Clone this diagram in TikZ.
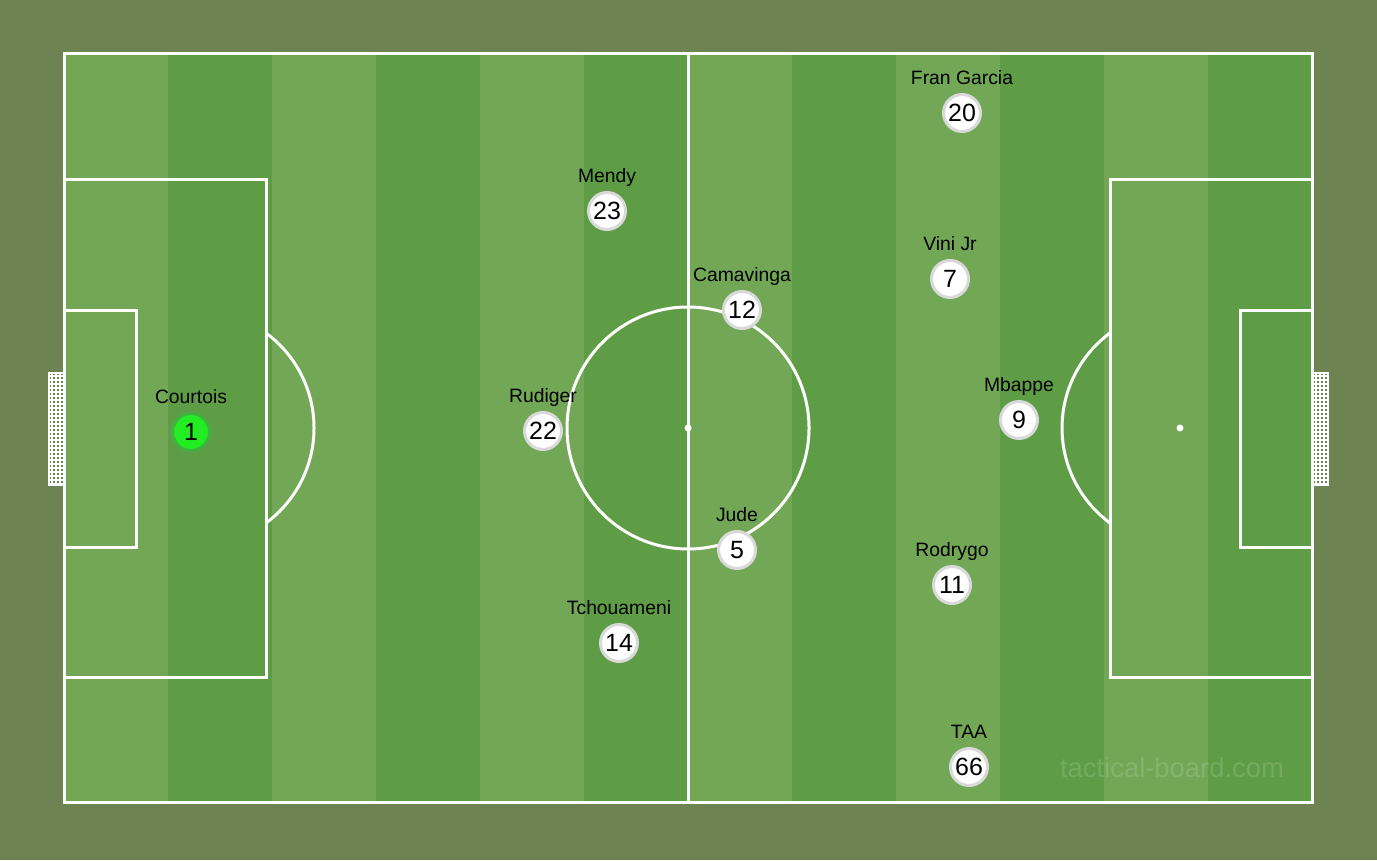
\documentclass[tikz,border=0pt]{standalone}
\usepackage{fontspec}
\setmainfont{Liberation Sans}
\usepackage{tikz}
\usetikzlibrary{calc}

\definecolor{surround}{HTML}{6E8352}
\definecolor{grassA}{HTML}{72A756}
\definecolor{grassB}{HTML}{5E9D45}
\definecolor{keeper}{HTML}{22EC22}

\tikzset{
	pitchline/.style={white, line width=0.3mm},
	player/.style={circle, fill=white, draw=gray!30, line width=0.3mm, minimum size=3.7mm, inner sep=0pt, font=\fontsize{7.1pt}{7.5pt}\selectfont},
	goalkeeper/.style={player, fill=keeper, draw=green!60!black!75},
	namelbl/.style={inner sep=0pt, text depth=0pt, font=\fontsize{5.5pt}{6pt}\selectfont, label distance=0.8mm},
}

\begin{document}
\begin{tikzpicture}[x=0.1mm, y=-0.1mm]
	\useasboundingbox[fill=surround] (0,0) rectangle (1377,860);
	% stripes
	\foreach \x in {64,272,...,1104}
		\fill[grassA] (\x,54) rectangle +(104,748);
	\foreach \x in {168,376,...,1208}
		\fill[grassB] (\x,54) rectangle +(104,748);

	% goals
	\foreach \gx in {49,1312}{
		\fill[surround] (\gx,373) rectangle +(16,112);
		\draw[white, line width=0.12mm, step=0.4mm] (\gx,373) grid +(16,112);
		\draw[white, line width=0.25mm] (\gx,373) rectangle +(16,112);
	}

	% markings
	\draw[pitchline] (64,54) rectangle (1312,802);
	\draw[pitchline] (688,54) -- (688,802);
	\draw[pitchline] (688,428) circle (121);
	\draw[pitchline] (64,180) rectangle (266,677);
	\draw[pitchline] (64,310) rectangle (136,547);
	\draw[pitchline] (1110,180) rectangle (1312,677);
	\draw[pitchline] (1240,310) rectangle (1312,547);
	\begin{scope}
		\clip (266,54) rectangle (1110,802);
		\draw[pitchline] (196,428) circle (118);
		\draw[pitchline] (1180,428) circle (118);
	\end{scope}
	\foreach \sx in {196,688,1180}
		\fill[white] (\sx,428) circle (3.5);

	\node[text=white, opacity=0.14, font=\fontsize{7.8pt}{8pt}\selectfont] (mark) at (1172,768) {tactical-board.com};

	% players
	\node[goalkeeper, label={[namelbl]above:Courtois}] (p1) at (191,432) {1};
	\foreach \nm/\num/\px/\py in {Rudiger/22/543/431, Mendy/23/607/211, Tchouameni/14/619/643,
		Camavinga/12/742/310, Jude/5/737/550, Fran Garcia/20/962/113, Vini Jr/7/950/279,
		Mbappe/9/1019/420, Rodrygo/11/952/585, TAA/66/969/767}
		\node[player, label={[namelbl]above:\nm}] (p\num) at (\px,\py) {\num};
\end{tikzpicture}
\end{document}
